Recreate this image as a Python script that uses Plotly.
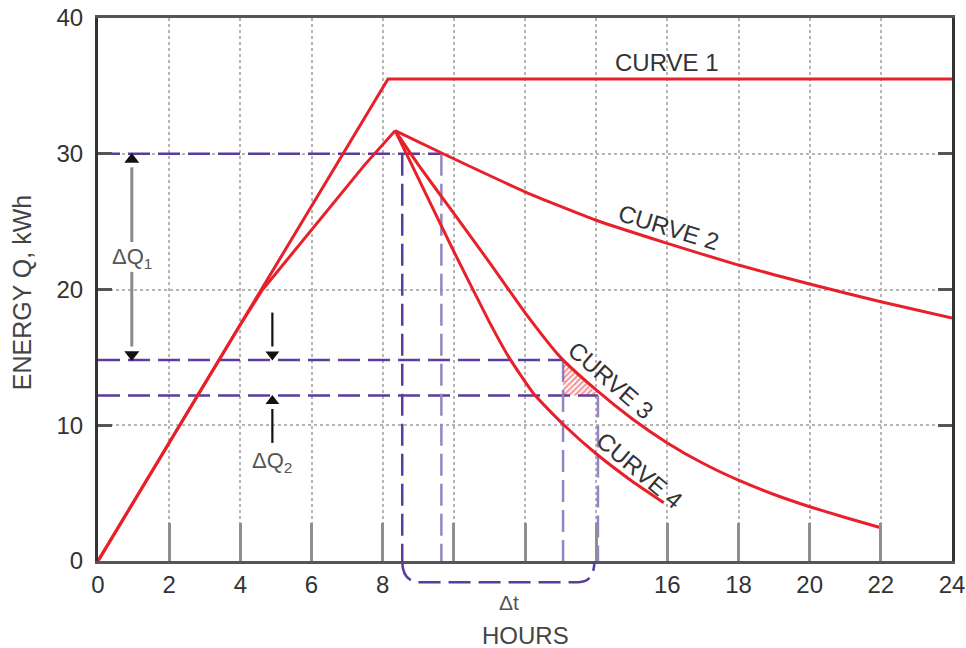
import plotly.graph_objects as go

# ---------------- data ----------------
x_label_ticks = [0, 2, 4, 6, 8, 16, 18, 20, 22, 24]
x_tick_step = 2
y_ticks = [0, 10, 20, 30, 40]

curve1_h = [0, 8.15, 24]
curve1_e = [0, 35.5, 35.5]

rise_h = [0, 2, 4, 4.6, 5.5, 6.5, 7.5, 8.35]
rise_e = [0, 8.7, 17.4, 19.9, 22.8, 26.0, 29.2, 31.7]

curve2_h = [8.35, 9.7, 12, 14, 16, 18, 20, 22, 24]
curve2_e = [31.7, 30.0, 27.2, 25.1, 23.4, 21.8, 20.4, 19.1, 17.9]

curve3_h = [8.35, 9, 10, 11, 12, 13, 14, 15, 16, 17, 18, 19, 20, 21, 22]
curve3_e = [31.7, 29.2, 25.6, 22.0, 18.3, 15.0, 12.6, 10.5, 8.7, 7.2, 5.95, 4.9, 4.0, 3.2, 2.45]

curve4_h = [8.35, 9, 10, 11, 11.55, 12.25, 13.1, 14, 15, 15.9]
curve4_e = [31.7, 28.2, 22.8, 17.6, 15.0, 12.3, 10.0, 7.9, 5.9, 4.3]

q_high = 30.0
q_mid = 14.8
q_low = 12.2
t_a, t_b = 8.55, 9.65
t_c, t_d = 13.07, 14.05

hatch_h = [13.07, 13.07, 14.05, 13.5, 13.07]
hatch_e = [14.8, 12.2, 12.2, 13.7, 14.8]

dq1_x = 0.95
dq1_label_y = 22.3
dq1_gap = (23.5, 21.3)
dq2_x = 4.9
dq2_top = 18.3
dq2_bot = 8.7
dq2_label_y = 7.3

curve_labels = [
    ("CURVE 1", 16.0, 36.7, 0),
    ("CURVE 2", 16.05, 24.6, 17),
    ("CURVE 3", 14.42, 13.3, 41),
    ("CURVE 4", 15.23, 6.7, 40),
]

# ---------------- styles ----------------
RED = "#e8202a"
PURPLE = "#5a3c9c"
PURPLE_L = "#9485c6"
FONT = "Liberation Sans, Arial, sans-serif"
TXT = "#333333"
HEAD = 0.42  # arrow-head half offset in data units

fig = go.Figure()

def purple_line(xs, ys, color=PURPLE):
    fig.add_trace(go.Scatter(x=xs, y=ys, mode="lines", hoverinfo="skip",
                             line=dict(color=color, width=2.5, dash="22px,8px"),
                             showlegend=False))

def label(x, y, text, size, color=TXT, xref="x", yref="y", angle=0, bg=None):
    fig.add_annotation(x=x, y=y, xref=xref, yref=yref, text=text, showarrow=False,
                       xanchor="center", yanchor="middle", textangle=angle,
                       bgcolor=bg, font=dict(family=FONT, size=size, color=color))

# dashed reference lines
purple_line([0, t_b], [q_high, q_high])
purple_line([0, t_c], [q_mid, q_mid])
purple_line([0, t_d], [q_low, q_low])
purple_line([t_a, t_a], [q_high, 0])
purple_line([t_b, t_b], [q_high, 0], PURPLE_L)
purple_line([t_c, t_c], [q_mid, 0], PURPLE_L)
purple_line([t_d, t_d], [q_low, 0], PURPLE_L)

# hatched area
fig.add_trace(go.Scatter(x=hatch_h, y=hatch_e, mode="lines", fill="toself",
                         line=dict(width=0, color=RED), hoverinfo="skip",
                         fillcolor="rgba(255,255,255,0)",
                         fillpattern=dict(shape="/", fgcolor=RED, size=4, solidity=0.5),
                         showlegend=False))

# curves
fig.add_trace(go.Scatter(x=curve1_h, y=curve1_e, mode="lines", hoverinfo="skip",
                         line=dict(color=RED, width=3), showlegend=False))
fig.add_trace(go.Scatter(x=rise_h, y=rise_e, mode="lines", hoverinfo="skip",
                         line=dict(color=RED, width=3), showlegend=False))
for xs, ys in [(curve2_h, curve2_e), (curve3_h, curve3_e), (curve4_h, curve4_e)]:
    fig.add_trace(go.Scatter(x=xs, y=ys, mode="lines", hoverinfo="skip",
                             line=dict(color=RED, width=3, shape="spline", smoothing=0.5),
                             showlegend=False))

# ΔQ1 arrow (gray shaft, black heads)
fig.add_trace(go.Scatter(x=[dq1_x, dq1_x, None, dq1_x, dq1_x],
                         y=[q_high - 1, dq1_gap[0], None, dq1_gap[1], q_mid + 1], mode="lines",
                         line=dict(color="#8a8a8a", width=3), hoverinfo="skip", showlegend=False))
fig.add_trace(go.Scatter(x=[dq1_x, dq1_x], y=[q_high - HEAD, q_mid + HEAD], mode="markers",
                         marker=dict(symbol=["triangle-up", "triangle-down"], size=13, color="#111111"),
                         hoverinfo="skip", showlegend=False))
label(dq1_x, dq1_label_y, "ΔQ<sub>1</sub>", 22, "#555555")

# ΔQ2 arrows
fig.add_trace(go.Scatter(x=[dq2_x, dq2_x, None, dq2_x, dq2_x],
                         y=[dq2_top, q_mid + 1, None, dq2_bot, q_low - 1], mode="lines",
                         line=dict(color="#111111", width=2.2), hoverinfo="skip", showlegend=False))
fig.add_trace(go.Scatter(x=[dq2_x, dq2_x], y=[q_mid + HEAD, q_low - HEAD], mode="markers",
                         marker=dict(symbol=["triangle-down", "triangle-up"], size=12, color="#111111"),
                         hoverinfo="skip", showlegend=False))
label(dq2_x, dq2_label_y, "ΔQ<sub>2</sub>", 22, "#555555")

# curve labels
for txt, lx, ly, ang in curve_labels:
    label(lx, ly, txt, 24, TXT, angle=ang)

# Δt bracket below the axis
d = -0.039
fig.add_shape(type="path", xref="x", yref="y domain",
              path=(f"M {t_a},0 Q {t_a},{d} {t_a + 0.5},{d} "
                    f"L {t_d - 0.55},{d} Q {t_d - 0.1},{d} {t_d - 0.1},0"),
              line=dict(color=PURPLE, width=2.5, dash="22px,8px"))
label((t_a + t_d) / 2 + 0.25, -0.076, "Δt", 21, "#555555", yref="y domain")

# axis titles
label(0.5, -0.138, "HOURS", 24, "#444444", xref="x domain", yref="y domain")
label(-0.089, 0.495, "ENERGY Q, kWh", 25, "#444444", xref="x domain", yref="y domain", angle=-90)

GRID = dict(showgrid=True, gridcolor="#b5b5b5", gridwidth=2, griddash="dot")
fig.update_xaxes(range=[0, 24], tickvals=x_label_ticks, automargin=False, **GRID,
                 ticks="inside", ticklen=38, tickwidth=3, tickcolor="#8f8f8f",
                 minor=dict(dtick=x_tick_step, tick0=0, ticks="inside", ticklen=38, tickwidth=3,
                            tickcolor="#8f8f8f", **GRID),
                 showline=True, linecolor="#555555", linewidth=3, mirror=True,
                 zeroline=False, tickfont=dict(family=FONT, size=24, color=TXT),
                 ticklabelstandoff=0, ticklabeloverflow="allow")
fig.update_yaxes(range=[0, 40], tickvals=y_ticks, automargin=False, **GRID,
                 ticks="inside", ticklen=14, tickwidth=3, tickcolor="#555555",
                 showline=True, linecolor="#333333", linewidth=3, mirror="ticks",
                 zeroline=False, tickfont=dict(family=FONT, size=24, color=TXT),
                 ticklabelstandoff=7, ticklabeloverflow="allow")

fig.update_layout(width=966, height=648, plot_bgcolor="white", paper_bgcolor="white",
                  margin=dict(l=98, r=14, t=18, b=87), showlegend=False)

fig.write_html("out.html", config={"displayModeBar": False},
               post_script="document.body.style.margin='0';")
